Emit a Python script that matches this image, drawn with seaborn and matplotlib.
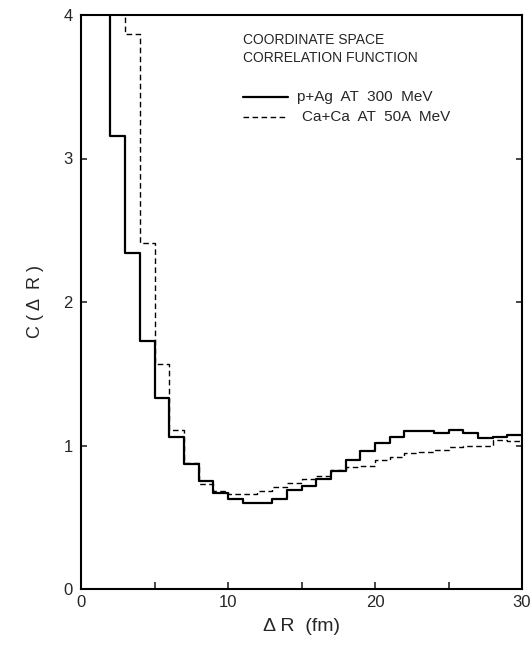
import numpy as np
import pandas as pd
import matplotlib
matplotlib.use("Agg")
import matplotlib.pyplot as plt
import seaborn as sns

# Bin edges (fm) and correlation values per 1-fm bin
pag_edges = list(range(1, 31))
pag_values = [6.0, 3.16, 2.34, 1.73, 1.33, 1.06, 0.87, 0.75, 0.67, 0.63,
              0.60, 0.60, 0.63, 0.69, 0.72, 0.77, 0.82, 0.90, 0.96, 1.02,
              1.06, 1.10, 1.10, 1.09, 1.11, 1.09, 1.05, 1.06, 1.07]

caca_edges = list(range(2, 31))
caca_values = [6.0, 3.87, 2.41, 1.57, 1.11, 0.88, 0.73, 0.68, 0.66, 0.66,
               0.685, 0.71, 0.74, 0.77, 0.79, 0.83, 0.85, 0.86, 0.90, 0.92,
               0.945, 0.955, 0.97, 0.99, 1.00, 1.00, 1.04, 1.03]

x_ticks = [0, 5, 10, 15, 20, 25, 30]
x_tick_labels = ["0", "", "10", "", "20", "", "30"]
y_ticks = [0, 1, 2, 3, 4]
y_tick_labels = ["0", "1", "2", "3", "4"]

title_lines = ["COORDINATE SPACE", "CORRELATION FUNCTION"]
series_labels = ["p+Ag  AT  300  MeV", "Ca+Ca  AT  50A  MeV"]

sns.set_style("ticks")
plt.rcParams["font.family"] = ["Liberation Sans", "DejaVu Sans"]

fig = plt.figure(figsize=(5.32, 6.45), dpi=100)
ax = fig.add_axes([81 / 532, 56 / 645, 441 / 532, 574 / 645])

df_pag = pd.DataFrame({"r": pag_edges, "c": pag_values + [pag_values[-1]]})
df_caca = pd.DataFrame({"r": caca_edges, "c": caca_values + [caca_values[-1]]})

sns.lineplot(data=df_pag, x="r", y="c", ax=ax, color="black", linewidth=1.6,
             drawstyle="steps-post", estimator=None, sort=False)
sns.lineplot(data=df_caca, x="r", y="c", ax=ax, color="black", linewidth=1.0,
             drawstyle="steps-post", estimator=None, sort=False,
             dashes=False, linestyle=(0, (4, 2.5)))

ax.set_xlim(0, 30)
ax.set_ylim(0, 4)
ax.set_xticks(x_ticks)
ax.set_xticklabels(x_tick_labels)
ax.set_yticks(y_ticks)
ax.set_yticklabels(y_tick_labels)
ax.tick_params(axis="x", direction="in", length=5, width=1.2, labelsize=12, pad=4)
ax.tick_params(axis="y", direction="in", length=4, width=1.2, labelsize=12, pad=6,
               right=True)
for s in ax.spines.values():
    s.set_linewidth(1.5)
    s.set_color("black")

ax.set_xlabel("Δ R  (fm)", fontsize=14, labelpad=6)
ax.set_ylabel("C ( Δ  R )", fontsize=13, labelpad=14)

# Annotation block
ax.text(0.367, 0.956, title_lines[0], transform=ax.transAxes, fontsize=10,
        va="center", ha="left")
ax.text(0.367, 0.925, title_lines[1], transform=ax.transAxes, fontsize=10,
        va="center", ha="left")
ax.plot([0.367, 0.469], [0.857, 0.857], transform=ax.transAxes, color="black",
        linewidth=1.6)
ax.text(0.49, 0.857, series_labels[0], transform=ax.transAxes, fontsize=11,
        va="center", ha="left")
ax.plot([0.367, 0.469], [0.822, 0.822], transform=ax.transAxes, color="black",
        linewidth=1.0, linestyle=(0, (4, 2.5)))
ax.text(0.50, 0.822, series_labels[1], transform=ax.transAxes, fontsize=11,
        va="center", ha="left")

if ax.get_legend() is not None:
    ax.get_legend().remove()

fig.savefig("out.png", dpi=100)
